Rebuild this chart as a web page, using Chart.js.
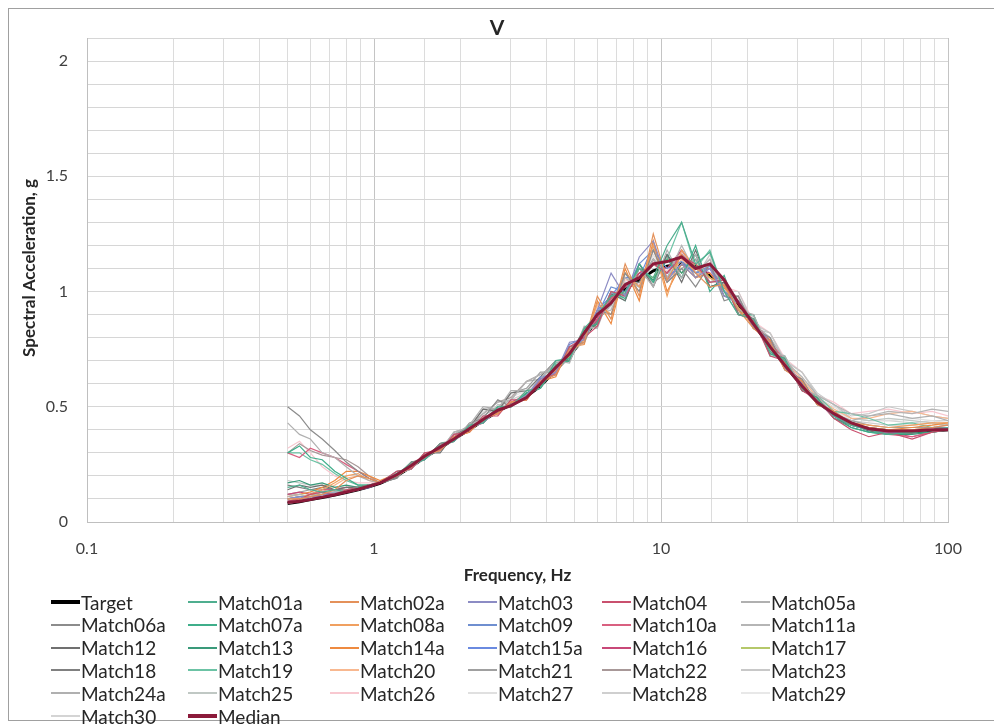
<!DOCTYPE html>
<html>
<head>
<meta charset="utf-8">
<script src="https://cdn.jsdelivr.net/npm/chart.js@4/dist/chart.umd.min.js"></script>
<style>
  body { margin: 0; background: #fff; font-family: Lato, sans-serif; }
  #wrap { position: relative; width: 994px; height: 726px; overflow: hidden; }
  #frame { position: absolute; left: 8px; top: 8px; width: 1000px; height: 713px; border: 1px solid #a0a0a0; box-sizing: border-box; }
  #chart { position: absolute; left: 0; top: 0; }
  #legend { position: absolute; left: 0; top: 0; width: 994px; height: 726px; pointer-events: none; }
  .lg { position: absolute; height: 22px; display: flex; align-items: center; font: 19px Lato, sans-serif; color: #262626; white-space: nowrap; }
  .lg i { display: inline-block; width: 29px; margin-right: 1px; }
</style>
</head>
<body>
<div id="wrap">
  <div id="frame"></div>
  <canvas id="chart" width="994" height="590"></canvas>
  <div id="legend"></div>
</div>
<script>
const freqs = [0.5, 0.55, 0.6, 0.66, 0.73, 0.8, 0.88, 0.96, 1.05, 1.2, 1.35, 1.5, 1.7, 1.9, 2.15, 2.4, 2.7, 3.0, 3.4, 3.8, 4.3, 4.8, 5.4, 6.0, 6.7, 7.5, 8.4, 9.4, 10.5, 11.8, 13.2, 14.8, 16.6, 18.6, 21, 24, 27, 31, 35, 40, 46, 53, 62, 75, 88, 100];
const xTickLabels = ['0.1', '1', '10', '100'];
const yTickLabels = ['0', '0.5', '1', '1.5', '2'];

const target = [0.08, 0.088, 0.097, 0.106, 0.117, 0.128, 0.14, 0.153, 0.168, 0.2, 0.24, 0.28, 0.32, 0.36, 0.40, 0.44, 0.48, 0.51, 0.545, 0.59, 0.66, 0.72, 0.80, 0.88, 0.95, 1.01, 1.05, 1.09, 1.11, 1.12, 1.11, 1.07, 1.01, 0.94, 0.86, 0.76, 0.68, 0.59, 0.52, 0.47, 0.43, 0.40, 0.39, 0.39, 0.395, 0.40];
const median = [0.085, 0.09, 0.098, 0.108, 0.118, 0.13, 0.142, 0.155, 0.17, 0.205, 0.245, 0.285, 0.325, 0.36, 0.405, 0.445, 0.485, 0.505, 0.54, 0.6, 0.67, 0.73, 0.82, 0.9, 0.95, 1.03, 1.06, 1.12, 1.13, 1.15, 1.10, 1.12, 1.05, 0.95, 0.86, 0.76, 0.68, 0.59, 0.52, 0.47, 0.43, 0.405, 0.395, 0.395, 0.40, 0.40];

const match01a = [0.15, 0.16, 0.14, 0.13, 0.14, 0.13, 0.15, 0.16, 0.17, 0.21, 0.25, 0.27, 0.33, 0.35, 0.42, 0.43, 0.50, 0.50, 0.57, 0.58, 0.70, 0.71, 0.84, 0.90, 0.98, 1.00, 1.10, 1.06, 1.20, 1.30, 1.12, 1.17, 1.00, 0.90, 0.88, 0.74, 0.70, 0.58, 0.53, 0.46, 0.42, 0.40, 0.38, 0.39, 0.40, 0.41];
const match02a = [0.10, 0.10, 0.11, 0.12, 0.14, 0.18, 0.20, 0.19, 0.17, 0.20, 0.24, 0.29, 0.31, 0.37, 0.39, 0.45, 0.47, 0.52, 0.53, 0.61, 0.64, 0.75, 0.78, 0.98, 0.88, 1.12, 0.98, 1.25, 1.05, 1.16, 1.08, 1.02, 1.03, 0.92, 0.84, 0.78, 0.66, 0.61, 0.51, 0.48, 0.42, 0.41, 0.40, 0.40, 0.41, 0.42];
const match03 = [0.10, 0.11, 0.10, 0.12, 0.12, 0.13, 0.14, 0.16, 0.17, 0.20, 0.25, 0.27, 0.33, 0.35, 0.41, 0.43, 0.49, 0.51, 0.55, 0.62, 0.65, 0.78, 0.79, 0.92, 1.08, 0.98, 1.15, 1.22, 1.05, 1.12, 1.06, 1.10, 0.98, 0.95, 0.85, 0.77, 0.67, 0.60, 0.52, 0.46, 0.42, 0.40, 0.39, 0.40, 0.40, 0.41];
const match04 = [0.09, 0.10, 0.12, 0.13, 0.12, 0.14, 0.15, 0.16, 0.17, 0.22, 0.23, 0.30, 0.31, 0.38, 0.39, 0.46, 0.46, 0.53, 0.53, 0.62, 0.64, 0.76, 0.80, 0.85, 1.00, 0.98, 1.08, 1.12, 1.08, 1.15, 1.12, 1.04, 1.05, 0.90, 0.88, 0.72, 0.70, 0.57, 0.53, 0.45, 0.40, 0.37, 0.39, 0.36, 0.39, 0.40];
const match05a = [0.43, 0.38, 0.36, 0.30, 0.28, 0.24, 0.20, 0.18, 0.17, 0.21, 0.23, 0.30, 0.31, 0.38, 0.42, 0.50, 0.49, 0.57, 0.57, 0.62, 0.70, 0.69, 0.85, 0.84, 1.00, 0.98, 1.10, 1.02, 1.18, 1.06, 1.16, 1.04, 1.06, 0.92, 0.90, 0.74, 0.72, 0.58, 0.55, 0.46, 0.44, 0.46, 0.47, 0.45, 0.46, 0.44];
const match06a = [0.50, 0.46, 0.40, 0.36, 0.31, 0.26, 0.22, 0.19, 0.17, 0.19, 0.26, 0.27, 0.34, 0.35, 0.43, 0.45, 0.53, 0.50, 0.54, 0.61, 0.64, 0.76, 0.78, 0.92, 0.90, 1.08, 1.00, 1.18, 1.04, 1.10, 1.02, 1.12, 0.96, 0.98, 0.84, 0.80, 0.66, 0.62, 0.51, 0.48, 0.42, 0.41, 0.40, 0.40, 0.41, 0.41];
const match07a = [0.30, 0.33, 0.28, 0.27, 0.22, 0.19, 0.16, 0.16, 0.17, 0.20, 0.26, 0.27, 0.34, 0.35, 0.42, 0.43, 0.50, 0.50, 0.56, 0.58, 0.68, 0.70, 0.84, 0.86, 1.00, 0.97, 1.12, 1.04, 1.14, 1.06, 1.20, 1.00, 1.07, 0.90, 0.90, 0.73, 0.71, 0.57, 0.54, 0.45, 0.41, 0.39, 0.38, 0.39, 0.39, 0.40];
const match08a = [0.10, 0.10, 0.12, 0.14, 0.17, 0.20, 0.21, 0.18, 0.17, 0.20, 0.24, 0.28, 0.32, 0.36, 0.40, 0.44, 0.48, 0.51, 0.55, 0.60, 0.66, 0.73, 0.79, 0.95, 0.90, 1.08, 1.02, 1.20, 0.98, 1.18, 1.10, 1.06, 1.02, 0.93, 0.85, 0.77, 0.69, 0.59, 0.52, 0.48, 0.43, 0.42, 0.41, 0.42, 0.43, 0.43];
const match09 = [0.09, 0.10, 0.11, 0.11, 0.12, 0.13, 0.14, 0.15, 0.17, 0.20, 0.24, 0.29, 0.32, 0.36, 0.40, 0.45, 0.48, 0.51, 0.54, 0.63, 0.64, 0.77, 0.80, 0.90, 1.02, 1.00, 1.12, 1.18, 1.10, 1.13, 1.08, 1.11, 1.00, 0.96, 0.86, 0.78, 0.68, 0.60, 0.52, 0.47, 0.42, 0.40, 0.39, 0.39, 0.40, 0.40];
const match10a = [0.30, 0.28, 0.32, 0.30, 0.28, 0.25, 0.22, 0.19, 0.17, 0.20, 0.25, 0.28, 0.33, 0.36, 0.41, 0.43, 0.49, 0.51, 0.54, 0.61, 0.65, 0.74, 0.82, 0.88, 0.97, 1.02, 1.06, 1.12, 1.08, 1.16, 1.10, 1.10, 1.02, 0.96, 0.87, 0.78, 0.70, 0.60, 0.53, 0.47, 0.43, 0.40, 0.38, 0.37, 0.39, 0.41];
const match11a = [0.11, 0.12, 0.11, 0.13, 0.13, 0.14, 0.15, 0.16, 0.17, 0.21, 0.23, 0.29, 0.31, 0.39, 0.41, 0.47, 0.52, 0.53, 0.61, 0.64, 0.68, 0.74, 0.78, 0.90, 0.92, 1.06, 1.02, 1.14, 1.06, 1.20, 1.08, 1.14, 1.00, 0.98, 0.86, 0.80, 0.70, 0.63, 0.55, 0.51, 0.47, 0.46, 0.48, 0.47, 0.49, 0.48];
const match12 = [0.14, 0.16, 0.15, 0.16, 0.14, 0.15, 0.15, 0.16, 0.17, 0.22, 0.23, 0.30, 0.30, 0.38, 0.41, 0.49, 0.48, 0.56, 0.57, 0.63, 0.70, 0.70, 0.83, 0.86, 0.99, 0.96, 1.12, 1.02, 1.16, 1.04, 1.18, 1.02, 1.04, 0.90, 0.88, 0.73, 0.71, 0.57, 0.54, 0.45, 0.42, 0.40, 0.39, 0.39, 0.40, 0.40];
const match13 = [0.17, 0.18, 0.16, 0.17, 0.15, 0.16, 0.15, 0.16, 0.17, 0.20, 0.25, 0.28, 0.33, 0.36, 0.41, 0.44, 0.49, 0.50, 0.56, 0.59, 0.68, 0.71, 0.82, 0.86, 0.98, 0.99, 1.10, 1.05, 1.16, 1.08, 1.16, 1.02, 1.04, 0.92, 0.88, 0.74, 0.69, 0.58, 0.53, 0.46, 0.41, 0.39, 0.38, 0.38, 0.39, 0.40];
const match14a = [0.11, 0.12, 0.13, 0.15, 0.18, 0.22, 0.22, 0.20, 0.18, 0.21, 0.24, 0.29, 0.31, 0.37, 0.39, 0.45, 0.47, 0.52, 0.53, 0.61, 0.63, 0.76, 0.77, 0.96, 0.86, 1.10, 0.96, 1.22, 1.00, 1.12, 1.06, 1.08, 1.00, 0.95, 0.84, 0.79, 0.67, 0.61, 0.51, 0.48, 0.42, 0.41, 0.40, 0.41, 0.42, 0.43];
const match15a = [0.10, 0.11, 0.11, 0.12, 0.13, 0.13, 0.14, 0.15, 0.17, 0.20, 0.25, 0.28, 0.32, 0.36, 0.41, 0.44, 0.49, 0.50, 0.55, 0.60, 0.65, 0.75, 0.79, 0.92, 0.98, 1.06, 1.06, 1.20, 1.06, 1.12, 1.08, 1.10, 1.00, 0.95, 0.86, 0.77, 0.68, 0.60, 0.52, 0.47, 0.42, 0.40, 0.39, 0.40, 0.40, 0.41];
const match16 = [0.12, 0.13, 0.12, 0.14, 0.14, 0.15, 0.15, 0.16, 0.17, 0.21, 0.23, 0.29, 0.32, 0.37, 0.40, 0.45, 0.47, 0.52, 0.55, 0.60, 0.66, 0.73, 0.82, 0.88, 0.97, 1.03, 1.08, 1.12, 1.10, 1.18, 1.10, 1.08, 1.02, 0.95, 0.86, 0.77, 0.69, 0.60, 0.52, 0.47, 0.43, 0.40, 0.39, 0.37, 0.39, 0.41];
const match17 = [0.10, 0.11, 0.12, 0.12, 0.13, 0.14, 0.15, 0.16, 0.17, 0.20, 0.25, 0.27, 0.33, 0.35, 0.41, 0.43, 0.49, 0.50, 0.55, 0.60, 0.67, 0.72, 0.82, 0.86, 0.97, 1.00, 1.08, 1.06, 1.14, 1.08, 1.12, 1.06, 1.02, 0.93, 0.87, 0.75, 0.69, 0.58, 0.53, 0.46, 0.43, 0.40, 0.39, 0.39, 0.40, 0.40];
const match18 = [0.16, 0.15, 0.14, 0.15, 0.14, 0.14, 0.15, 0.16, 0.17, 0.19, 0.26, 0.27, 0.34, 0.35, 0.42, 0.43, 0.50, 0.50, 0.56, 0.58, 0.68, 0.70, 0.82, 0.87, 0.96, 1.02, 1.04, 1.14, 1.08, 1.16, 1.10, 1.12, 0.98, 0.96, 0.84, 0.79, 0.67, 0.61, 0.52, 0.48, 0.42, 0.41, 0.40, 0.40, 0.40, 0.41];
const match19 = [0.30, 0.30, 0.27, 0.25, 0.21, 0.18, 0.16, 0.16, 0.17, 0.20, 0.26, 0.27, 0.34, 0.35, 0.42, 0.43, 0.50, 0.50, 0.56, 0.58, 0.69, 0.70, 0.84, 0.86, 1.00, 0.96, 1.12, 1.04, 1.14, 1.30, 1.10, 1.18, 1.00, 0.90, 0.90, 0.72, 0.72, 0.57, 0.55, 0.48, 0.47, 0.45, 0.42, 0.43, 0.41, 0.40];
const match20 = [0.09, 0.10, 0.11, 0.13, 0.16, 0.19, 0.20, 0.19, 0.17, 0.20, 0.24, 0.28, 0.32, 0.36, 0.40, 0.44, 0.48, 0.51, 0.55, 0.60, 0.66, 0.74, 0.78, 0.94, 0.90, 1.06, 1.00, 1.18, 1.04, 1.14, 1.08, 1.06, 1.02, 0.96, 0.86, 0.78, 0.70, 0.62, 0.54, 0.49, 0.45, 0.45, 0.47, 0.48, 0.46, 0.45];
const match21 = [0.12, 0.13, 0.14, 0.14, 0.14, 0.14, 0.15, 0.16, 0.17, 0.21, 0.23, 0.29, 0.31, 0.39, 0.41, 0.49, 0.49, 0.56, 0.58, 0.65, 0.65, 0.76, 0.79, 0.91, 0.94, 1.08, 1.02, 1.14, 1.04, 1.10, 1.14, 1.04, 1.06, 0.92, 0.88, 0.75, 0.70, 0.58, 0.53, 0.47, 0.44, 0.42, 0.41, 0.41, 0.41, 0.42];
const match22 = [0.30, 0.34, 0.31, 0.29, 0.28, 0.27, 0.24, 0.20, 0.17, 0.21, 0.24, 0.29, 0.31, 0.37, 0.42, 0.47, 0.52, 0.54, 0.61, 0.64, 0.68, 0.72, 0.84, 0.85, 1.00, 0.98, 1.10, 1.04, 1.08, 1.16, 1.06, 1.12, 0.98, 0.98, 0.84, 0.80, 0.66, 0.62, 0.51, 0.48, 0.43, 0.40, 0.39, 0.40, 0.40, 0.41];
const match23 = [0.12, 0.12, 0.13, 0.13, 0.13, 0.14, 0.15, 0.16, 0.17, 0.20, 0.25, 0.27, 0.33, 0.36, 0.40, 0.45, 0.48, 0.52, 0.55, 0.60, 0.67, 0.71, 0.81, 0.87, 0.95, 1.04, 1.02, 1.12, 1.08, 1.18, 1.06, 1.16, 1.00, 1.00, 0.86, 0.82, 0.70, 0.65, 0.56, 0.51, 0.46, 0.47, 0.50, 0.48, 0.46, 0.45];
const match24a = [0.10, 0.11, 0.11, 0.12, 0.13, 0.13, 0.14, 0.16, 0.17, 0.21, 0.24, 0.29, 0.32, 0.37, 0.41, 0.46, 0.50, 0.53, 0.61, 0.62, 0.69, 0.70, 0.83, 0.86, 0.97, 0.98, 1.10, 1.04, 1.16, 1.06, 1.14, 1.02, 1.04, 0.91, 0.88, 0.74, 0.70, 0.57, 0.54, 0.46, 0.43, 0.41, 0.40, 0.40, 0.40, 0.41];
const match25 = [0.18, 0.17, 0.16, 0.16, 0.15, 0.15, 0.15, 0.16, 0.17, 0.19, 0.26, 0.27, 0.34, 0.36, 0.42, 0.43, 0.51, 0.50, 0.56, 0.58, 0.68, 0.72, 0.80, 0.90, 0.94, 1.04, 1.04, 1.12, 1.06, 1.16, 1.08, 1.14, 0.98, 0.98, 0.84, 0.82, 0.70, 0.65, 0.55, 0.51, 0.45, 0.44, 0.45, 0.44, 0.43, 0.42];
const match26 = [0.32, 0.35, 0.30, 0.24, 0.20, 0.18, 0.17, 0.17, 0.17, 0.20, 0.26, 0.28, 0.33, 0.36, 0.41, 0.44, 0.50, 0.51, 0.57, 0.59, 0.67, 0.74, 0.79, 0.90, 0.95, 1.05, 1.03, 1.13, 1.09, 1.17, 1.08, 1.14, 1.02, 1.00, 0.87, 0.82, 0.71, 0.65, 0.55, 0.52, 0.47, 0.48, 0.49, 0.47, 0.48, 0.46];
const match27 = [0.08, 0.09, 0.10, 0.11, 0.12, 0.13, 0.14, 0.16, 0.17, 0.21, 0.23, 0.29, 0.31, 0.38, 0.41, 0.48, 0.50, 0.55, 0.58, 0.63, 0.66, 0.74, 0.80, 0.89, 0.93, 1.06, 1.02, 1.16, 1.06, 1.14, 1.10, 1.10, 1.00, 0.97, 0.86, 0.80, 0.69, 0.63, 0.54, 0.50, 0.45, 0.44, 0.44, 0.45, 0.44, 0.43];
const match28 = [0.09, 0.10, 0.10, 0.11, 0.12, 0.13, 0.14, 0.16, 0.17, 0.20, 0.25, 0.28, 0.32, 0.37, 0.40, 0.45, 0.48, 0.53, 0.56, 0.61, 0.68, 0.71, 0.82, 0.86, 0.98, 0.99, 1.08, 1.06, 1.14, 1.08, 1.16, 1.04, 1.04, 0.92, 0.89, 0.75, 0.71, 0.59, 0.54, 0.47, 0.44, 0.43, 0.42, 0.42, 0.43, 0.42];
const match29 = [0.09, 0.10, 0.11, 0.11, 0.12, 0.13, 0.14, 0.16, 0.17, 0.21, 0.24, 0.28, 0.33, 0.36, 0.41, 0.47, 0.49, 0.54, 0.57, 0.62, 0.65, 0.75, 0.78, 0.91, 0.92, 1.07, 1.00, 1.15, 1.04, 1.12, 1.12, 1.06, 1.02, 0.95, 0.85, 0.80, 0.67, 0.63, 0.52, 0.49, 0.44, 0.42, 0.41, 0.42, 0.42, 0.42];
const match30 = [0.10, 0.10, 0.11, 0.12, 0.12, 0.13, 0.14, 0.16, 0.17, 0.20, 0.25, 0.27, 0.33, 0.35, 0.42, 0.43, 0.50, 0.51, 0.55, 0.61, 0.67, 0.70, 0.83, 0.85, 0.99, 0.97, 1.12, 1.03, 1.15, 1.06, 1.14, 1.08, 1.01, 0.96, 0.88, 0.76, 0.72, 0.60, 0.55, 0.48, 0.45, 0.44, 0.44, 0.43, 0.44, 0.44];

const matches = [
    ['Match01a', match01a, '#4fae8f'], ['Match02a', match02a, '#e4915a'], ['Match03', match03, '#8c8cc4'],
    ['Match04', match04, '#c9506e'], ['Match05a', match05a, '#b0b0b0'], ['Match06a', match06a, '#8c8c8c'],
    ['Match07a', match07a, '#3fae8a'], ['Match08a', match08a, '#f0a060'], ['Match09', match09, '#6f8fd0'],
    ['Match10a', match10a, '#d96080'], ['Match11a', match11a, '#b5b5b5'], ['Match12', match12, '#707070'],
    ['Match13', match13, '#3a9a7a'], ['Match14a', match14a, '#ee8a40'], ['Match15a', match15a, '#6a8ae0'],
    ['Match16', match16, '#c84878'], ['Match17', match17, '#b5c86a'], ['Match18', match18, '#808080'],
    ['Match19', match19, '#6cc3a5'], ['Match20', match20, '#f8b890'], ['Match21', match21, '#a0a0a0'],
    ['Match22', match22, '#a89898'], ['Match23', match23, '#c8c8c8'], ['Match24a', match24a, '#b0b0b0'],
    ['Match25', match25, '#c0c8c4'], ['Match26', match26, '#f8c8d0'], ['Match27', match27, '#e0e0e0'],
    ['Match28', match28, '#cfcfcf'], ['Match29', match29, '#e8e8e8'], ['Match30', match30, '#d4d4d4']
];

const toPoints = vals => vals.map((v, i) => ({ x: freqs[i], y: v }));

const datasets = [
    { label: 'Target', data: toPoints(target), borderColor: '#000000', borderWidth: 3, order: 100 },
    ...matches.map(([name, vals, color]) => ({ label: name, data: toPoints(vals), borderColor: color, borderWidth: 1.2, order: 50 })),
    { label: 'Median', data: toPoints(median), borderColor: '#8b1a3a', borderWidth: 3, order: 0 }
];
datasets.forEach(d => { d.pointRadius = 0; d.tension = 0; d.fill = false; d.backgroundColor = d.borderColor; });

const isDecade = v => Math.abs(Math.log10(v) - Math.round(Math.log10(v))) < 1e-6;
const isHalf = v => Math.abs(v * 2 - Math.round(v * 2)) < 1e-6;

// chart title and y-axis title, placed where the reference has them
const titlesPlugin = {
    id: 'titles',
    afterDraw(chart) {
        const ctx = chart.ctx;
        ctx.save();
        ctx.fillStyle = '#262626';
        ctx.textAlign = 'center';
        ctx.textBaseline = 'middle';
        ctx.font = 'bold 21px Lato';
        ctx.fillText('V', 497, 28);
        ctx.translate(30, 268);
        ctx.rotate(-Math.PI / 2);
        ctx.font = 'bold 17px Lato';
        ctx.fillText('Spectral Acceleration, g', 0, 0);
        ctx.restore();
    }
};

const chart = new Chart(document.getElementById('chart'), {
    type: 'line',
    data: { datasets },
    plugins: [titlesPlugin],
    options: {
        responsive: false,
        animation: false,
        events: [],
        layout: { padding: { left: 20, right: 46, top: 38, bottom: 0 } },
        plugins: {
            legend: { display: false },
            tooltip: { enabled: false },
            title: { display: false }
        },
        scales: {
            x: {
                type: 'logarithmic', min: 0.1, max: 100,
                afterFit: s => { s.height = 68; },
                grid: { color: c => isDecade(c.tick.value) ? '#c4c4c4' : '#dcdcdc', drawTicks: false },
                border: { color: '#bfbfbf' },
                ticks: {
                    autoSkip: false, maxRotation: 0, padding: 17, color: '#404040',
                    font: { family: 'Lato', size: 16 },
                    callback: v => {
                        if (!isDecade(v)) return '';
                        const i = Math.round(Math.log10(v)) + 1;
                        return xTickLabels[i] || '';
                    }
                },
                title: {
                    display: true, text: 'Frequency, Hz', color: '#262626',
                    font: { family: 'Lato', size: 17, weight: 'bold' }, padding: { top: 0, bottom: 4 }
                }
            },
            y: {
                min: 0, max: 2.1,
                afterFit: s => { s.width = 67; },
                grid: { color: '#d6d6d6', drawTicks: false },
                border: { color: '#bfbfbf' },
                ticks: {
                    stepSize: 0.1, autoSkip: false, padding: 19, color: '#404040',
                    font: { family: 'Lato', size: 16 },
                    callback: v => isHalf(v) ? (yTickLabels[Math.round(v * 2)] || '') : ''
                }
            }
        }
    }
});

// legend grid below the chart, 6 columns
const legendCols = [81, 218, 360, 498, 632, 771];
const legendRowTop = 591, legendRowStep = 22.8;
const legendEl = document.getElementById('legend');
chart.data.datasets.forEach((d, i) => {
    const col = i % 6, row = Math.floor(i / 6);
    const item = document.createElement('div');
    item.className = 'lg';
    item.style.left = (legendCols[col] - 30) + 'px';
    item.style.top = (legendRowTop + row * legendRowStep) + 'px';
    const sw = document.createElement('i');
    sw.style.height = (d.borderWidth >= 3 ? 4 : 2) + 'px';
    sw.style.background = d.borderColor;
    item.appendChild(sw);
    item.appendChild(document.createTextNode(d.label));
    legendEl.appendChild(item);
});
</script>
</body>
</html>
